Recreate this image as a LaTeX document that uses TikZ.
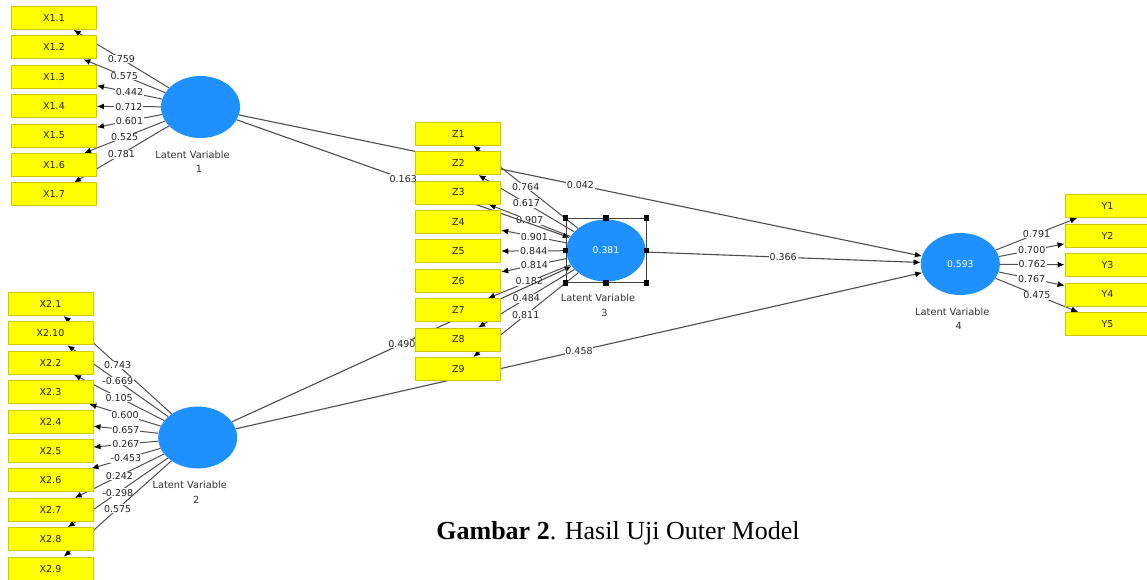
\documentclass[tikz,border=0pt]{standalone}
\usepackage{fontspec}
\newfontfamily\plsfont{DejaVu Sans}
\newfontfamily\capfont{Liberation Serif}
\usepackage{xcolor}
\usetikzlibrary{arrows.meta, shapes.geometric, calc, positioning}
\pgfdeclarelayer{bg}
\pgfsetlayers{bg,main}
\definecolor{lvblue}{HTML}{1E90FF}
\definecolor{boxyel}{HTML}{FFFF00}
\definecolor{boxedge}{HTML}{D0C800}
\definecolor{lngray}{HTML}{505050}

\begin{document}
\begin{tikzpicture}[x=1pt,y=-1pt,
  indbox/.style={draw=boxedge, fill=boxyel, line width=0.9pt, minimum width=85pt,
    minimum height=23pt, inner sep=0pt, text=black!85,
    font=\plsfont\fontsize{9.5}{11}\selectfont},
  latent/.style={ellipse, fill=lvblue, minimum width=79pt, minimum height=62pt,
    inner sep=0pt, text=white, font=\plsfont\fontsize{9.3}{11}\selectfont},
  lvtext/.style={inner sep=0pt, text=black!80, font=\plsfont\fontsize{9.8}{11}\selectfont},
  coef/.style={fill=white, inner sep=0.8pt, text=black!85,
    font=\plsfont\fontsize{9.5}{11}\selectfont},
  loadline/.style={draw=lngray, line width=1pt, -{Latex[length=7pt,width=6pt,color=black]}},
  pathline/.style={draw=black!70, line width=1.1pt, -{Latex[length=7pt,width=6pt,color=black]}},
  handle/.style={fill=black}]
\useasboundingbox (0,0) rectangle (1147,580);

% Latent variables
\node[latent] (lv1) at (200.5,107) {};
\node[latent] (lv2) at (197.7,437.5) {};
\node[latent] (lv3) at (606,250.5) {0.381};
\node[latent] (lv4) at (960.3,264) {0.593};
\foreach \n in {1,...,4}{
  \node[lvtext] (lvcap\n) at ($(lv\n)+(-8,47.5)$) {Latent Variable};
  \node[lvtext] (lvnum\n) at ($(lv\n)+(-1.5,62)$) {\n};
}

% Indicator boxes
\foreach \i in {1,...,7}
  \node[indbox] (x1-\i) at (54,{18+29.4*(\i-1)}) {X1.\i};
\foreach \lab [count=\k from 0] in {1,10,2,3,4,5,6,7,8,9}
  \node[indbox] (x2-\lab) at (50.5,{304+29.4*\k}) {X2.\lab};
\foreach \i in {1,...,9}
  \node[indbox] (z\i) at (458.3,{133.7+29.4*(\i-1)}) {Z\i};
\foreach \i in {1,...,5}
  \node[indbox] (y\i) at (1107.5,{206+29.5*(\i-1)}) {Y\i};

% Selection frame on LV3
\node[draw=black!75, line width=0.9pt, minimum width=80pt, minimum height=64pt,
  inner sep=0pt] (sel3) at (lv3) {};
\foreach \a in {north west,north,north east,east,south east,south,south west,west}
  \fill[handle] (sel3.\a) +(-2.7,-2.7) rectangle +(2.7,2.7);

\begin{pgfonlayer}{bg}
% Outer loadings
\foreach \i/\v in {1/0.759,2/0.575,3/0.442,4/0.712,5/0.601,6/0.525,7/0.781}
  \draw[loadline] (lv1) -- node[coef] (l1-\i) {\v} (x1-\i);
\foreach \i/\v in {1/0.743,10/-0.669,2/0.105,3/0.600,4/0.657,5/0.267,6/-0.453,7/0.242,8/-0.298,9/0.575}
  \draw[loadline] (lv2) -- node[coef] (l2-\i) {\v} (x2-\i);
\foreach \i/\v in {1/0.764,2/0.617,3/0.907,4/0.901,5/0.844,6/0.814,7/0.182,8/0.484,9/0.811}
  \draw[loadline] (lv3) -- node[coef] (l3-\i) {\v} (z\i);
\foreach \i/\v in {1/0.791,2/0.700,3/0.762,4/0.767,5/0.475}
  \draw[loadline] (lv4) -- node[coef] (l4-\i) {\v} (y\i);
% Inner paths
\draw[pathline] (lv1) -- node[coef] (p13) {0.163} (lv3);
\draw[pathline] (lv1) -- node[coef] (p14) {0.042} (lv4);
\draw[pathline] (lv2) -- node[coef] (p23) {0.490} (lv3);
\draw[pathline] (lv2) -- node[coef] (p24) {0.458} (lv4);
\draw[pathline] (lv3) -- node[coef] (p34) {0.366} (lv4);
\end{pgfonlayer}

% Caption
\node[font=\capfont\fontsize{26}{30}\selectfont] (caption) at (618,533)
  {\textbf{Gambar 2}. Hasil Uji Outer Model};
\end{tikzpicture}
\end{document}
